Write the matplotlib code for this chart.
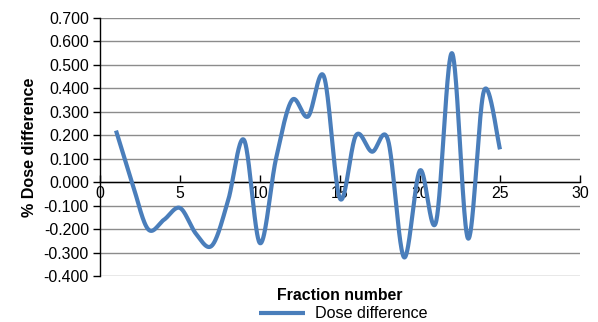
import numpy as np
import matplotlib
matplotlib.use("Agg")
import matplotlib.pyplot as plt
from matplotlib.ticker import FormatStrFormatter

plt.rcParams['font.family'] = ['Liberation Sans', 'DejaVu Sans']

# Fraction numbers and the measured dose difference (%) per fraction
fractions = [1, 2, 3, 4, 5, 6, 7, 8, 9, 10, 11, 12, 13, 14, 15, 16, 17, 18, 19, 20, 21, 22, 23, 24, 25]
dose_diff = [0.22, 0.00, -0.20, -0.16, -0.11, -0.22, -0.27, -0.08, 0.18, -0.26,
             0.10, 0.35, 0.28, 0.45, -0.07, 0.20, 0.13, 0.18, -0.32, 0.05,
             -0.17, 0.55, -0.24, 0.39, 0.14]
x_ticks = [0, 5, 10, 15, 20, 25, 30]
y_ticks = [-0.4, -0.3, -0.2, -0.1, 0.0, 0.1, 0.2, 0.3, 0.4, 0.5, 0.6, 0.7]


def smooth_curve(xs, ys, n=40):
    """Cardinal (Catmull-Rom style) spline through the points, like a smoothed line chart."""
    xs = np.asarray(xs, float)
    ys = np.asarray(ys, float)
    px = np.concatenate([[xs[0]], xs, [xs[-1]]])
    py = np.concatenate([[ys[0]], ys, [ys[-1]]])
    out_x, out_y = [], []
    t = np.linspace(0, 1, n)
    for i in range(1, len(px) - 2):
        p0, p1, p2, p3 = (np.array([px[j], py[j]]) for j in (i - 1, i, i + 1, i + 2))
        c1 = p1 + (p2 - p0) / 6.0
        c2 = p2 - (p3 - p1) / 6.0
        b = ((1 - t) ** 3)[:, None] * p1 + (3 * (1 - t) ** 2 * t)[:, None] * c1 \
            + (3 * (1 - t) * t ** 2)[:, None] * c2 + (t ** 3)[:, None] * p2
        out_x.extend(b[:, 0])
        out_y.extend(b[:, 1])
    return np.array(out_x), np.array(out_y)


fig = plt.figure(figsize=(5.98, 3.22), dpi=100)
ax = fig.add_axes([100 / 598, 1 - 276 / 322, 480 / 598, 258 / 322])

sx, sy = smooth_curve(fractions, dose_diff)
line, = ax.plot(sx, sy, color='#4a7ebb', lw=3.0, solid_capstyle='butt',
                label='Dose difference', zorder=3)

ax.set_xlim(0, 30)
ax.set_ylim(-0.4, 0.7)
ax.set_xticks(x_ticks)
ax.set_yticks(y_ticks)
ax.yaxis.set_major_formatter(FormatStrFormatter('%.3f'))

ax.grid(axis='y', color='#8c8c8c', lw=1.0, zorder=1)
ax.set_axisbelow(True)

for s in ('top', 'right'):
    ax.spines[s].set_visible(False)
ax.spines['bottom'].set_position(('data', 0))
ax.spines['bottom'].set_color('black')
ax.spines['bottom'].set_linewidth(1.0)
ax.spines['left'].set_linewidth(1.0)
ax.spines['bottom'].set_zorder(2)

ax.tick_params(axis='y', direction='out', length=5, width=1, labelsize=11.4, pad=3)
ax.tick_params(axis='x', direction='in', length=5, width=1, labelsize=11.4, pad=3)

ax.set_ylabel('% Dose difference', fontsize=11.6, fontweight='bold', labelpad=5)
fig.text(340 / 598, 1 - 295 / 322, 'Fraction number', fontsize=11.4,
         fontweight='bold', ha='center', va='center')

fig.legend(handles=[line], loc='center', bbox_to_anchor=(343 / 598, 1 - 314 / 322),
           frameon=False, fontsize=11.6, handlelength=2.9, handletextpad=0.6,
           borderpad=0, borderaxespad=0)

fig.savefig('out.png', dpi=100)
